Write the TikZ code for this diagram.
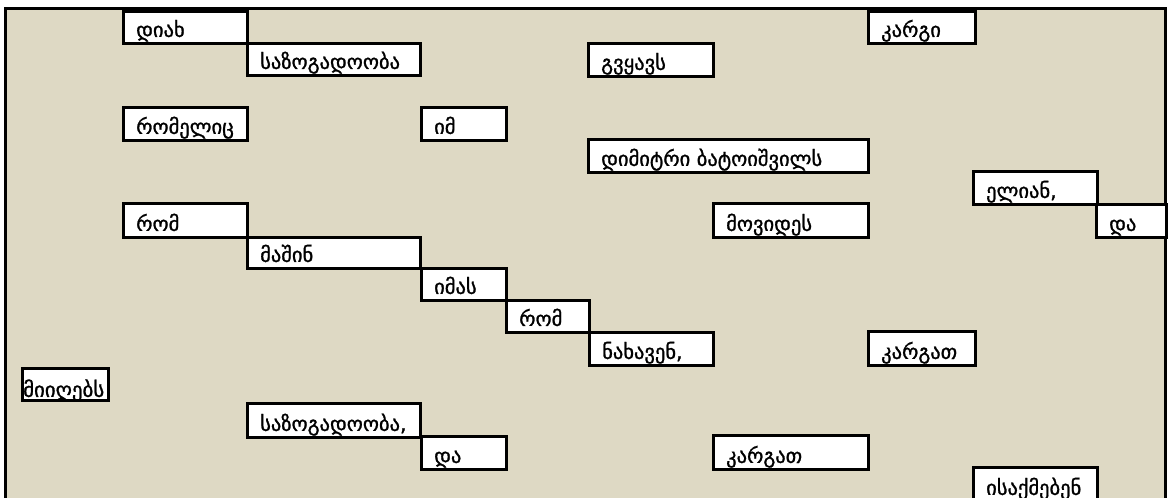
\documentclass[tikz,border=0pt]{standalone}
\usepackage{fontspec}
\newfontfamily\geo[FakeBold=1.2]{DejaVu Sans}
\usetikzlibrary{calc}
\definecolor{bgbeige}{RGB}{222,217,196}
\tikzset{
  wbox/.style={draw=black, fill=white, line width=3bp, inner sep=0pt, anchor=north west},
  wtxt/.style={anchor=base west, inner sep=0pt, font=\geo\fontsize{20.5bp}{24bp}\selectfont},
}
\newcommand{\wordbox}[6]{%
  \node[wbox, minimum width=#4-#2, minimum height=#5-#3] (b#1) at (#2,#3) {};
  \node[wtxt] (t#1) at ($(b#1.south west)+(14,-8)$) {#6};
}
\begin{document}
\begin{tikzpicture}[x=1bp,y=-1bp]
\useasboundingbox (0,0) rectangle (1169,498);
\begin{scope}
\clip (0,0) rectangle (1169,498);
\fill[white] (0,0) rectangle (1169,498);
\draw[fill=bgbeige, line width=3bp] (5,9) rectangle (1165,520);
\wordbox{1}{122}{10}{246}{42}{დიახ}
\wordbox{2}{246}{42}{420}{74}{საზოგადოობა}
\wordbox{3}{587}{42}{712}{75}{გვყავს}
\wordbox{4}{867}{10}{974}{42}{კარგი}
\wordbox{5}{122}{106}{246}{139}{რომელიც}
\wordbox{6}{420}{106}{505}{139}{იმ}
\wordbox{7}{587}{138}{868}{171}{დიმიტრი ბატოიშვილს}
\wordbox{8}{972}{170}{1096}{203}{ელიან,}
\wordbox{9}{1095}{203}{1165}{236}{და}
\wordbox{10}{712}{202}{868}{236}{მოვიდეს}
\wordbox{11}{122}{202}{246}{236}{რომ}
\wordbox{12}{246}{236}{420}{267}{მაშინ}
\wordbox{13}{420}{267}{505}{299}{იმას}
\wordbox{14}{505}{299}{588}{331}{რომ}
\wordbox{15}{588}{331}{712}{364}{ნახავენ,}
\wordbox{16}{867}{330}{974}{364}{კარგათ}
\node[wbox, minimum width=86, minimum height=32] (b17) at (21,367) {};
\node[wtxt, anchor=base west] (t17) at ($(b17.south west)+(2,-5)$) {\resizebox{81bp}{!}{მიიღებს}};
\wordbox{18}{246}{402}{420}{436}{საზოგადოობა,}
\wordbox{19}{420}{435}{505}{468}{და}
\wordbox{20}{712}{434}{868}{468}{კარგათ}
\wordbox{21}{972}{466}{1096}{500}{ისაქმებენ}
\end{scope}
\end{tikzpicture}
\end{document}
